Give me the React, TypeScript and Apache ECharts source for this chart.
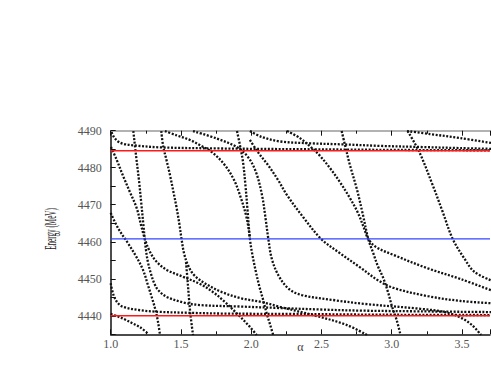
import React, { useEffect, useRef } from "react";
import * as echarts from "echarts";

const xMin = 1.0;
const xMax = 3.7;
const yMin = 4435;
const yMax = 4490;

const redLevels = [4484.6, 4440.0];
const blueLevels = [4460.8];

const curveT1: [number, number][] = [[1.006,4489.6],[1.023,4488.3],[1.052,4487.1],[1.095,4486.4],[1.173,4486.0],[1.351,4485.5],[1.778,4485.2],[2.347,4485.0],[3.059,4484.8],[3.707,4484.7]];
const curveT2: [number, number][] = [[1.991,4489.9],[2.077,4488.3],[2.205,4487.1],[2.418,4486.6],[2.653,4486.3],[2.917,4485.9],[3.201,4485.6],[3.486,4485.3],[3.707,4485.1]];
const curveT3: [number, number][] = [[3.109,4489.9],[3.273,4489.1],[3.486,4488.0],[3.707,4486.7]];
const curveL1: [number, number][] = [[1.002,4485.6],[1.043,4482.1],[1.090,4477.6],[1.137,4473.4],[1.185,4469.1],[1.216,4464.5],[1.242,4460.9],[1.273,4457.8],[1.322,4454.8],[1.399,4452.4],[1.517,4450.5],[1.636,4448.6],[1.728,4446.4],[1.814,4443.7],[1.899,4440.6],[1.991,4437.0],[2.039,4434.8]];
const curveC2: [number, number][] = [[1.161,4489.9],[1.180,4483.4],[1.201,4476.7],[1.219,4469.9],[1.233,4464.5],[1.242,4460.9],[1.251,4457.8],[1.265,4454.5],[1.287,4451.3],[1.312,4448.6],[1.339,4446.9],[1.399,4445.1],[1.517,4443.6],[1.636,4442.9],[1.920,4442.5],[2.205,4442.1],[2.490,4441.7],[2.774,4441.4],[3.201,4441.2],[3.707,4441.0]];
const curveL2: [number, number][] = [[1.000,4467.8],[1.052,4463.7],[1.123,4459.6],[1.180,4456.1],[1.230,4452.4],[1.265,4448.3],[1.294,4444.8],[1.319,4441.5],[1.337,4438.3],[1.351,4434.8]];
const curveL3: [number, number][] = [[1.000,4448.8],[1.020,4445.6],[1.052,4443.4],[1.090,4442.4],[1.209,4441.5],[1.327,4441.1],[1.564,4440.8],[1.801,4440.6],[2.276,4440.5],[2.917,4440.3],[3.707,4440.2]];
const curveL4: [number, number][] = [[1.000,4440.5],[1.052,4439.8],[1.102,4439.0],[1.159,4437.9],[1.209,4436.9],[1.265,4435.2]];
const curveC3: [number, number][] = [[1.360,4489.9],[1.374,4485.7],[1.397,4482.1],[1.422,4478.0],[1.447,4473.4],[1.468,4469.4],[1.490,4464.5],[1.504,4460.8],[1.522,4456.9],[1.550,4453.7],[1.593,4451.0],[1.678,4448.6],[1.792,4446.4],[1.920,4444.8],[2.077,4443.7],[2.205,4442.4],[2.440,4440.2],[2.682,4437.5],[2.824,4434.8]];
const curveC3b: [number, number][] = [[1.536,4454.5],[1.547,4449.6],[1.557,4444.8],[1.568,4440.2],[1.586,4434.8]];
const curveS11: [number, number][] = [[1.386,4489.9],[1.472,4488.7],[1.564,4487.5],[1.636,4486.1],[1.721,4484.2],[1.806,4481.0],[1.878,4476.7],[1.927,4471.8],[1.963,4467.2],[1.981,4463.7],[1.991,4460.8]];
const curveC4: [number, number][] = [[1.899,4489.9],[1.920,4486.1],[1.942,4481.5],[1.959,4475.3],[1.974,4468.6],[1.991,4460.8],[2.009,4456.4],[2.034,4451.8],[2.059,4447.8],[2.086,4444.2],[2.110,4440.7],[2.134,4437.7],[2.157,4434.8]];
const curveC5: [number, number][] = [[1.586,4489.9],[1.754,4487.9],[1.897,4485.6],[1.977,4482.9],[2.034,4478.8],[2.077,4472.6],[2.102,4466.4],[2.122,4460.8],[2.146,4455.5],[2.193,4451.0],[2.264,4447.4],[2.359,4445.6],[2.596,4444.2],[2.810,4443.2],[3.201,4441.9],[3.379,4441.0],[3.486,4439.6],[3.572,4437.5],[3.636,4434.8]];
const curveD: [number, number][] = [[1.991,4487.5],[2.048,4484.2],[2.120,4480.7],[2.191,4476.7],[2.255,4472.6],[2.369,4466.7],[2.497,4460.8],[2.632,4456.9],[2.782,4452.9],[2.902,4449.6],[3.016,4447.5],[3.258,4445.3],[3.493,4444.0],[3.707,4443.4]];
const curveE: [number, number][] = [[2.255,4489.9],[2.347,4488.0],[2.433,4485.3],[2.490,4483.2],[2.561,4479.9],[2.632,4476.1],[2.703,4471.8],[2.760,4467.8],[2.803,4463.7],[2.833,4460.8],[2.888,4458.6],[3.016,4456.4],[3.258,4452.8],[3.493,4449.9],[3.707,4446.9]];
const curveF: [number, number][] = [[2.644,4489.9],[2.668,4486.1],[2.703,4480.7],[2.751,4474.4],[2.796,4467.2],[2.833,4460.8],[2.869,4456.9],[2.902,4453.4],[2.940,4450.2],[2.974,4446.4],[3.002,4442.6],[3.036,4438.8],[3.063,4434.8]];
const curveG: [number, number][] = [[3.114,4489.9],[3.196,4484.3],[3.292,4475.3],[3.363,4468.1],[3.434,4460.8],[3.517,4455.5],[3.588,4451.9],[3.707,4449.6]];

const curves = [curveT1, curveT2, curveT3, curveL1, curveC2, curveL2, curveL3, curveL4, curveC3, curveC3b, curveS11, curveC4, curveC5, curveD, curveE, curveF, curveG];

const SERIF = '"Liberation Serif", "DejaVu Serif", serif';

export default function App() {
  const ref = useRef<HTMLDivElement>(null);
  useEffect(() => {
    if (!ref.current) return;
    const chart = echarts.init(ref.current, undefined, { renderer: "svg" });
    const labelFont = { fontFamily: SERIF, fontSize: 12, color: "#555" };
    const dotted = curves.map((c) => ({
      type: "line",
      data: c,
      showSymbol: false,
      smooth: 0.35,
      silent: true,
      z: 2,
      lineStyle: { color: "#111", width: 2.3, type: [2, 1.6], cap: "butt" },
    }));
    const levelSeries = [
      ...redLevels.map((v) => ({
        type: "line",
        data: [[xMin, v], [xMax, v]],
        showSymbol: false,
        silent: true,
        z: 3,
        lineStyle: { color: "#ff1a1a", width: 1.4 },
      })),
      ...blueLevels.map((v) => ({
        type: "line",
        data: [[xMin, v], [xMax, v]],
        showSymbol: false,
        silent: true,
        z: 3,
        lineStyle: { color: "#3344ff", width: 1.2 },
      })),
    ];
    chart.setOption({
      animation: false,
      backgroundColor: "#ffffff",
      grid: { left: 110.7, right: 1, top: 130.7, bottom: 47.7 },
      xAxis: [
        {
          type: "value",
          position: "bottom",
          min: xMin,
          max: xMax,
          interval: 0.5,
          name: "α",
          nameLocation: "middle",
          nameGap: 7,
          nameMoveOverlap: false,
          nameTextStyle: { fontFamily: SERIF, fontSize: 12, color: "#444" },
          axisLine: { show: true, lineStyle: { color: "#111", width: 1.5 } },
          axisTick: { show: true, inside: true, length: 5, lineStyle: { color: "#111" } },
          minorTick: { show: true, splitNumber: 2, length: 3, lineStyle: { color: "#111" } },
          axisLabel: {
            ...labelFont,
            margin: 4,
            showMaxLabel: false,
            formatter: (v: number) => v.toFixed(1),
          },
          splitLine: { show: false },
        },
        {
          type: "value",
          position: "top",
          min: xMin,
          max: xMax,
          interval: 0.5,
          axisLine: { show: true, lineStyle: { color: "#999", width: 1.5 } },
          axisTick: { show: true, inside: true, length: 5, lineStyle: { color: "#111" } },
          minorTick: { show: true, splitNumber: 2, length: 3, lineStyle: { color: "#111" } },
          axisLabel: { show: false },
          splitLine: { show: false },
        },
      ],
      yAxis: {
        type: "value",
        min: yMin,
        max: yMax,
        interval: 5,
        axisLine: { show: true, lineStyle: { color: "#111", width: 1.5 } },
        axisTick: { show: true, inside: true, length: 5, lineStyle: { color: "#111" } },
        axisLabel: {
          ...labelFont,
          margin: 9,
          formatter: (v: number) => (Math.round(v) % 10 === 0 ? String(Math.round(v)) : ""),
        },
        splitLine: { show: false },
      },
      graphic: [
        {
          type: "text",
          x: 50,
          y: 229,
          rotation: Math.PI / 2,
          scaleX: 0.42,
          style: {
            text: "Energy (MeV)",
            font: '17px "Liberation Serif"',
            fill: "#222",
            textAlign: "center",
            textVerticalAlign: "middle",
          },
        },
      ],
      series: [...dotted, ...levelSeries],
    });
    return () => chart.dispose();
  }, []);
  return (
    <div
      ref={ref}
      style={{ position: "fixed", left: 0, top: 0, width: 491, height: 382 }}
    />
  );
}
